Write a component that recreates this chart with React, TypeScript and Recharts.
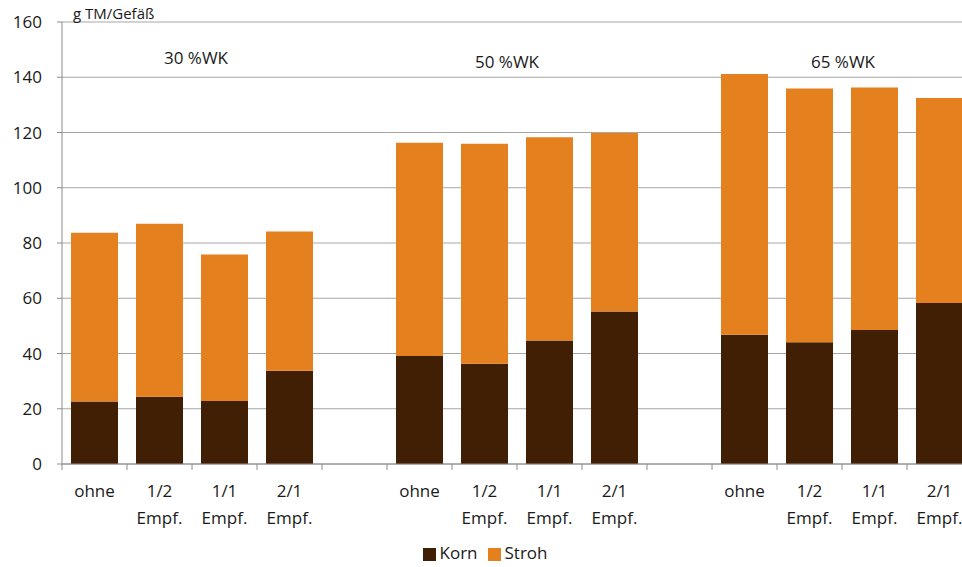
import React from "react";
import {
  Bar,
  BarChart,
  CartesianGrid,
  Legend,
  XAxis,
  YAxis,
} from "recharts";

// 14 slots: 3 groups of 4 with an empty slot between groups
const categories = [
  "ohne", "1/2 Empf.", "1/1 Empf.", "2/1 Empf.", "",
  "ohne", "1/2 Empf.", "1/1 Empf.", "2/1 Empf.", "",
  "ohne", "1/2 Empf.", "1/1 Empf.", "2/1 Empf.",
];

const korn = [
  22.6, 24.3, 22.8, 33.8, null,
  39.1, 36.3, 44.7, 55.2, null,
  46.8, 44.1, 48.5, 58.3,
];

const stroh = [
  61.1, 62.7, 53.0, 50.4, null,
  77.2, 79.6, 73.6, 64.6, null,
  94.4, 91.8, 87.8, 74.2,
];

const yTicks = [0, 20, 40, 60, 80, 100, 120, 140, 160];

const groupLabels = [
  { text: "30 %WK", left: 196, top: 58 },
  { text: "50 %WK", left: 507, top: 62 },
  { text: "65 %WK", left: 843, top: 62 },
];

const data = categories.map((name, i) => ({
  key: `c${i}`,
  name,
  Korn: korn[i],
  Stroh: stroh[i],
}));

const FONT = "'Open Sans', sans-serif";
const SLOT = 65;
const CHART_W = 978;
const CHART_H = 559;

function CategoryTick(props: any) {
  const { x, y, payload } = props;
  const lines = String(payload.value || "").split(" ").filter(Boolean);
  return (
    <g>
      <line
        x1={x - SLOT / 2}
        x2={x - SLOT / 2}
        y1={y}
        y2={y + 6}
        stroke="#8c8c8c"
      />
      {lines.map((line, i) => (
        <text
          key={i}
          x={x}
          y={y + 33 + i * 27}
          textAnchor="middle"
          fontSize={17}
          fill="#1a1a1a"
          fontFamily={FONT}
        >
          {line}
        </text>
      ))}
    </g>
  );
}

export default function App() {
  return (
    <div
      style={{
        position: "fixed",
        left: 0,
        top: 0,
        width: 962,
        height: 567,
        overflow: "hidden",
        background: "#fff",
        fontFamily: FONT,
      }}
    >
      <div style={{ position: "absolute", left: 8, top: 8 }}>
        <BarChart
          width={CHART_W}
          height={CHART_H}
          data={data}
          margin={{ top: 14, right: 14, left: 0, bottom: 0 }}
          barSize={47}
        >
          <CartesianGrid vertical={false} stroke="#a6a6a6" />
          <XAxis
            dataKey="key"
            interval={0}
            height={80}
            tickSize={0}
            tickMargin={0}
            tickLine={false}
            axisLine={{ stroke: "#8c8c8c" }}
            tick={(p: any) => (
              <CategoryTick
                {...p}
                payload={{ ...p.payload, value: categories[p.index] }}
              />
            )}
          />
          <YAxis
            domain={[0, 160]}
            ticks={yTicks}
            width={54}
            tickSize={5}
            tickMargin={15}
            tick={{ fontSize: 17, fill: "#1a1a1a", fontFamily: FONT }}
            axisLine={{ stroke: "#8c8c8c" }}
            tickLine={{ stroke: "#8c8c8c" }}
          />
          <Legend
            verticalAlign="bottom"
            iconType="square"
            iconSize={13}
            wrapperStyle={{
              fontSize: 17,
              color: "#1a1a1a",
              fontFamily: FONT,
              bottom: 3,
            }}
            formatter={(value) => (
              <span style={{ color: "#1a1a1a" }}>{value}</span>
            )}
          />
          <Bar
            dataKey="Korn"
            stackId="a"
            fill="#401f05"
            isAnimationActive={false}
          />
          <Bar
            dataKey="Stroh"
            stackId="a"
            fill="#e4801e"
            isAnimationActive={false}
          />
        </BarChart>
      </div>
      <div
        style={{
          position: "absolute",
          left: 73,
          top: 3,
          fontSize: 15,
          color: "#1a1a1a",
        }}
      >
        g TM/Gefäß
      </div>
      {groupLabels.map((g) => (
        <div
          key={g.text}
          style={{
            position: "absolute",
            left: g.left - 60,
            width: 120,
            textAlign: "center",
            top: g.top - 12,
            fontSize: 17,
            color: "#1a1a1a",
          }}
        >
          {g.text}
        </div>
      ))}
    </div>
  );
}
